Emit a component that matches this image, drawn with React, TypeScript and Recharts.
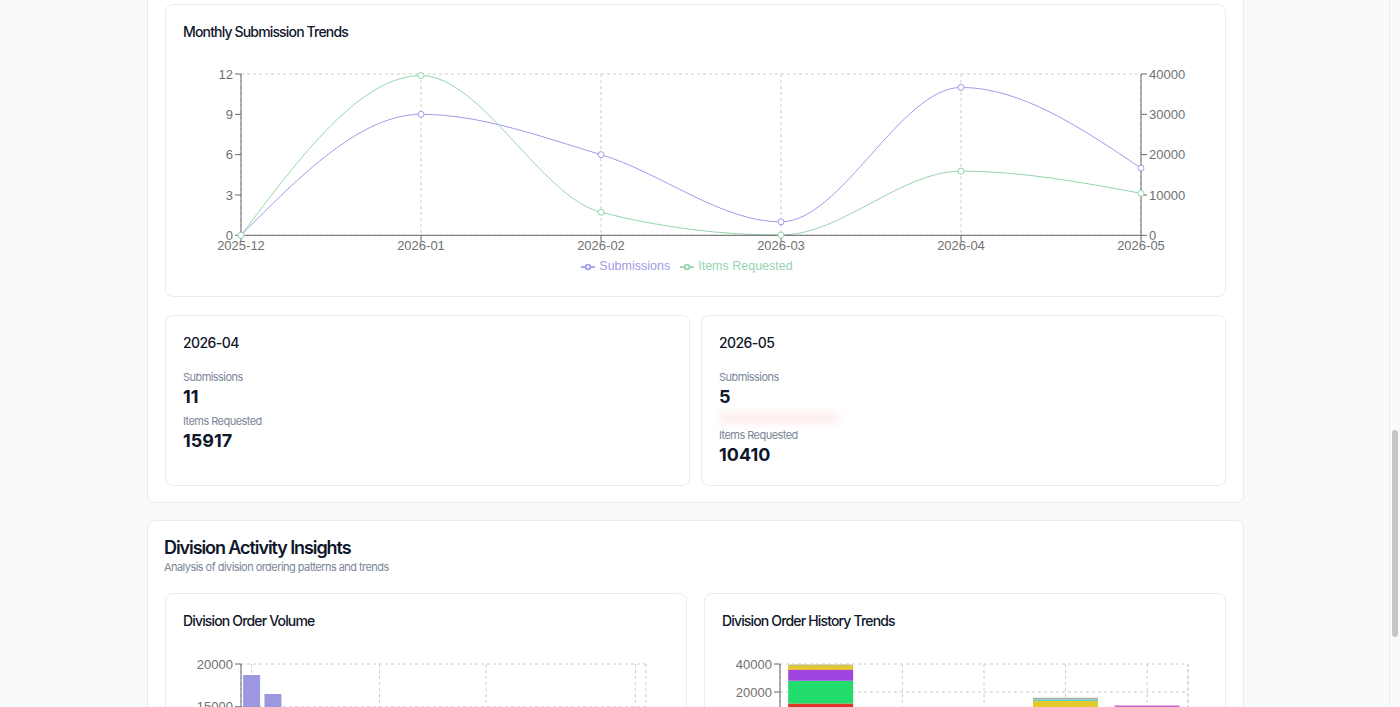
import { Bar, BarChart, CartesianGrid, Legend, Line, LineChart, ReferenceLine, XAxis, YAxis } from 'recharts'

// monthly trend
const months = ['2025-12', '2026-01', '2026-02', '2026-03', '2026-04', '2026-05']
const submissions = [0, 9, 6, 1, 11, 5]
const itemsRequested = [0, 39600, 5700, 50, 15917, 10410]

// division order volume (sorted)
const divisionNames = [
  'Facilities', 'Operations', 'Maintenance', 'Logistics', 'Engineering', 'Security', 'Fleet',
  'IT Services', 'Grounds', 'Health & Safety', 'Procurement', 'Finance', 'Human Resources',
  'Training', 'Planning', 'Communications', 'Legal', 'Records', 'Administration',
]
const divisionVolume = [18700, 16500, 11800, 10410, 7800, 3100, 2500, 1900, 1500, 1200, 950, 750, 600, 450, 320, 220, 150, 90, 40]

// division order history (stacked, bottom -> top)
const historyMonths = ['2026-01', '2026-02', '2026-03', '2026-04', '2026-05']
const historyDivisions = ['Maintenance', 'Facilities', 'Engineering', 'Fleet', 'Operations', 'Security', 'IT Services', 'Grounds', 'Logistics']
const historyColors = ['#e0362c', '#22dd6c', '#a046e0', '#e8902a', '#e3c92c', '#2ccfd2', '#b0abab', '#c8c070', '#cc66cc']
const maintenanceHist = [11800, 0, 0, 0, 0]
const facilitiesHist = [16200, 2500, 0, 0, 0]
const engineeringHist = [7800, 1500, 0, 0, 0]
const fleetHist = [500, 600, 50, 0, 0]
const operationsHist = [2300, 500, 0, 13700, 0]
const securityHist = [0, 300, 0, 1000, 0]
const itHist = [0, 200, 0, 1217, 0]
const groundsHist = [1000, 100, 0, 0, 0]
const logisticsHist = [0, 0, 0, 0, 10410]
const historyValues = [maintenanceHist, facilitiesHist, engineeringHist, fleetHist, operationsHist, securityHist, itHist, groundsHist, logisticsHist]

const trendData = months.map((month, i) => ({ month, submissions: submissions[i], items: itemsRequested[i] }))
const volumeData = divisionNames.map((name, i) => ({ name, value: divisionVolume[i] }))
const historyData = historyMonths.map((month, i) => {
  const row: Record<string, string | number> = { month }
  historyDivisions.forEach((d, j) => (row[d] = historyValues[j][i]))
  return row
})

const legendOrder = ['Submissions', 'Items Requested']

const INTER = 'Inter, "Noto Sans", sans-serif'
const CHART_FONT = '"Liberation Sans", Arial, sans-serif'
const TICK = { fill: '#707070' }

const Card = ({ x, y, w, h }: { x: number; y: number; w: number; h: number }) => (
  <div
    style={{
      position: 'absolute', left: x, top: y, width: w, height: h, boxSizing: 'border-box',
      background: '#fff', border: '1px solid #e8ebf0', borderRadius: 8,
    }}
  />
)

const T = ({ x, y, size, weight = 400, color = '#0f172a', ls = 0, children }: { x: number; y: number; size: number; weight?: number; color?: string; ls?: number; children: React.ReactNode }) => (
  <div
    style={{
      position: 'absolute', left: x, top: y - size * 0.7, lineHeight: `${size * 1.4}px`, fontSize: size,
      fontWeight: weight, color, fontFamily: INTER, whiteSpace: 'nowrap', letterSpacing: `${ls}em`,
    }}
  >
    {children}
  </div>
)

const LABEL = '#7b8698'

const App = () => {
  return (
    <div style={{ position: 'fixed', left: 0, top: 0, width: 1400, height: 707, overflow: 'hidden', background: '#f8fafc' }}>
      {/* outer section 1 */}
      <Card x={147} y={-40} w={1097} h={543} />
      <Card x={165} y={4} w={1061} h={293} />
      <T x={183} y={32} size={14} weight={500} ls={-0.06}>Monthly Submission Trends</T>
      <div style={{ position: 'absolute', left: 183, top: 64, fontFamily: CHART_FONT, fontSize: 13 }}>
        <LineChart width={1024} height={215} data={trendData} margin={{ top: 10, right: 6, left: 0, bottom: 5 }}>
          <CartesianGrid strokeDasharray="3 3" stroke="#ccc" />
          <XAxis dataKey="month" height={24} tickMargin={-1} tick={TICK} stroke="#666" />
          <YAxis yAxisId="left" width={58} domain={[0, 12]} ticks={[0, 3, 6, 9, 12]} tick={TICK} stroke="#666" />
          <YAxis yAxisId="right" orientation="right" width={60} domain={[0, 40000]} ticks={[0, 10000, 20000, 30000, 40000]} tick={TICK} stroke="#666" />
          <Legend
            wrapperStyle={{ fontSize: 12.5 }}
            itemSorter={(item: { value?: unknown }) => legendOrder.indexOf(String(item.value))}
          />
          <Line yAxisId="left" type="monotone" dataKey="submissions" name="Submissions" stroke="#a09ce8" isAnimationActive={false} />
          <Line yAxisId="right" type="monotone" dataKey="items" name="Items Requested" stroke="#96d5ad" isAnimationActive={false} />
        </LineChart>
      </div>

      <Card x={165} y={315} w={525} h={171} />
      <T x={183} y={343} size={14} weight={500} ls={-0.04}>2026-04</T>
      <T x={183} y={378} size={11} color={LABEL} ls={-0.05}>Submissions</T>
      <T x={183} y={397} size={18} weight={700}>11</T>
      <T x={183} y={422} size={11} color={LABEL} ls={-0.05}>Items Requested</T>
      <T x={183} y={441} size={18} weight={700}>15917</T>

      <Card x={701} y={315} w={525} h={171} />
      <T x={719} y={343} size={14} weight={500} ls={-0.04}>2026-05</T>
      <T x={719} y={378} size={11} color={LABEL} ls={-0.05}>Submissions</T>
      <T x={719} y={397} size={18} weight={700}>5</T>
      <div style={{ position: 'absolute', left: 718, top: 412, width: 122, height: 12, background: '#fdeeed', filter: 'blur(4px)', borderRadius: 6 }} />
      <T x={719} y={436} size={11} color={LABEL} ls={-0.05}>Items Requested</T>
      <T x={719} y={455} size={18} weight={700}>10410</T>

      {/* outer section 2 */}
      <Card x={147} y={520} w={1097} h={240} />
      <T x={164} y={548} size={18} weight={600} ls={-0.06}>Division Activity Insights</T>
      <T x={164} y={568} size={11} color={LABEL} ls={-0.05}>Analysis of division ordering patterns and trends</T>

      <Card x={165} y={593} w={522} h={200} />
      <T x={183} y={621} size={14} weight={500} ls={-0.06}>Division Order Volume</T>
      <div style={{ position: 'absolute', left: 183, top: 644, fontFamily: CHART_FONT, fontSize: 13 }}>
        <BarChart width={485} height={260} data={volumeData} margin={{ top: 20, right: 22, left: 0, bottom: 5 }}>
          <CartesianGrid strokeDasharray="3 3" stroke="#ccc" />
          <XAxis
            dataKey="name"
            height={64}
            ticks={[divisionNames[0], divisionNames[6], divisionNames[11], divisionNames[18]]}
            tick={TICK}
            stroke="#666"
          />
          <YAxis width={58} domain={[0, 20000]} ticks={[0, 5000, 10000, 15000, 20000]} tick={TICK} stroke="#666" />
          <ReferenceLine x={divisionNames[18]} position="end" stroke="#ccc" strokeDasharray="3 3" />
          <Bar dataKey="value" name="Items" fill="#9c98e0" isAnimationActive={false} />
        </BarChart>
      </div>

      <Card x={704} y={593} w={522} h={200} />
      <T x={722} y={621} size={14} weight={500} ls={-0.06}>Division Order History Trends</T>
      <div style={{ position: 'absolute', left: 722, top: 644, fontFamily: CHART_FONT, fontSize: 13 }}>
        <BarChart width={485} height={200} data={historyData} margin={{ top: 20, right: 19, left: 0, bottom: 94 }}>
          <CartesianGrid strokeDasharray="3 3" stroke="#ccc" />
          <XAxis dataKey="month" height={30} tick={TICK} stroke="#666" />
          <YAxis width={58} domain={[0, 40000]} ticks={[0, 20000, 40000]} tick={TICK} stroke="#666" />
          <ReferenceLine x={historyMonths[4]} position="end" stroke="#ccc" strokeDasharray="3 3" />
          {historyDivisions.map((d, j) => (
            <Bar key={d} dataKey={d} stackId="a" fill={historyColors[j]} isAnimationActive={false} />
          ))}
        </BarChart>
      </div>

      {/* scrollbar */}
      <div style={{ position: 'absolute', left: 1389, top: 0, width: 11, height: 707, background: '#fafafa', borderLeft: '1px solid #ececec' }} />
      <div style={{ position: 'absolute', left: 1392, top: 430, width: 6, height: 207, background: '#c6c6c6', borderRadius: 3 }} />
    </div>
  )
}

export default App
